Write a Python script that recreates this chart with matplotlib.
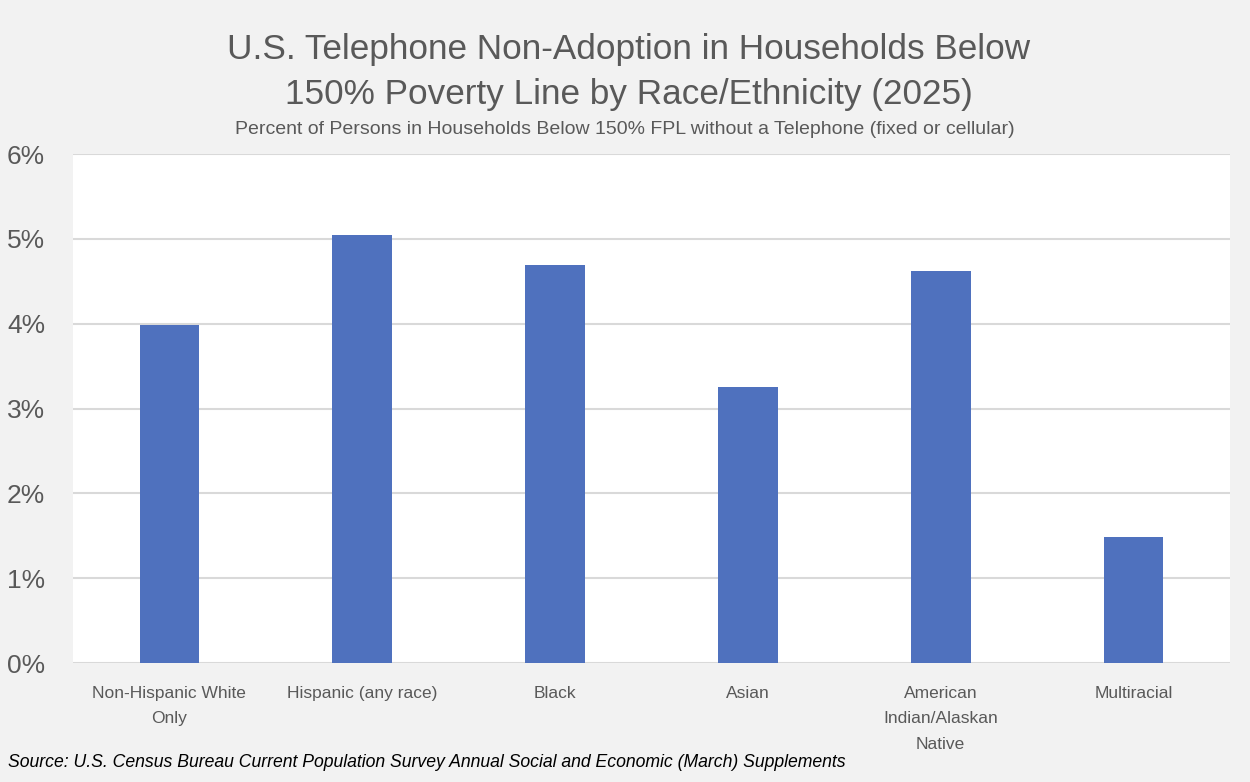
import matplotlib
matplotlib.use("Agg")
import matplotlib.pyplot as plt
from matplotlib.ticker import FuncFormatter

groups = ["Non-Hispanic White\nOnly", "Hispanic (any race)", "Black", "Asian",
          "American\nIndian/Alaskan\nNative", "Multiracial"]
pct_no_phone = [3.98, 5.05, 4.69, 3.25, 4.62, 1.49]
y_ticks = [0, 1, 2, 3, 4, 5, 6]

plt.rcParams["font.family"] = ["Liberation Sans", "DejaVu Sans"]

bg = "#f2f2f2"
grey = "#595959"

fig = plt.figure(figsize=(12.5, 7.82), dpi=100, facecolor=bg)
ax = fig.add_axes([0.0584, 0.152, 0.9256, 0.651])
ax.set_facecolor("white")

x = range(len(groups))
ax.bar(x, pct_no_phone, width=0.31, color="#4f71be", zorder=3)

ax.set_xlim(-0.5, len(groups) - 0.5)
ax.set_ylim(0, 6)
ax.set_yticks(y_ticks)
ax.yaxis.set_major_formatter(FuncFormatter(lambda v, p: "%d%%" % v))
ax.grid(axis="y", color="#d9d9d9", linewidth=1.5, zorder=0)
for s in ax.spines.values():
    s.set_visible(False)
ax.tick_params(axis="y", length=0, labelsize=19, labelcolor=grey, pad=20)
ax.tick_params(axis="x", length=0, labelsize=12.5, labelcolor=grey, pad=16.5)
ax.set_xticks(list(x))
ax.set_xticklabels(groups, linespacing=1.87)

fig.text(0.503, 0.958, "U.S. Telephone Non-Adoption in Households Below\n150% Poverty Line by Race/Ethnicity (2025)",
         ha="center", va="top", fontsize=25.3, color=grey, linespacing=1.45)
fig.text(0.5, 0.834, "Percent of Persons in Households Below 150% FPL without a Telephone (fixed or cellular)",
         ha="center", va="center", fontsize=14, color=grey)
fig.text(0.006, 0.025, "Source: U.S. Census Bureau Current Population Survey Annual Social and Economic (March) Supplements",
         ha="left", va="center", fontsize=12.7, style="italic", color="black")

fig.savefig("out.png", dpi=100, facecolor=bg)
